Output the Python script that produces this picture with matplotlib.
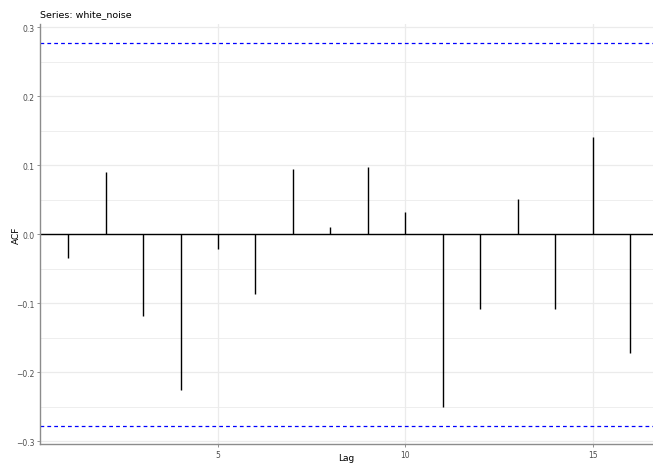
import matplotlib
matplotlib.use("Agg")
import matplotlib.pyplot as plt
import numpy as np

# autocorrelations of the white noise series, lags 1..16
lags = np.arange(1, 17)
acf = [-0.034, 0.090, -0.118, -0.225, -0.021, -0.087, 0.094, 0.011,
       0.097, 0.032, -0.251, -0.108, 0.051, -0.108, 0.141, -0.172]
n_obs = 50
ci = 1.96 / np.sqrt(n_obs)

yticks = [-0.3, -0.2, -0.1, 0.0, 0.1, 0.2, 0.3]
ytick_labels = ["\u22120.3", "\u22120.2", "\u22120.1", "0.0", "0.1", "0.2", "0.3"]
xticks = [5, 10, 15]

fig = plt.figure(figsize=(6.53, 4.64), dpi=100)
ax = fig.add_axes([40 / 653, 1 - 445 / 464, 613 / 653, 420 / 464])

ax.set_xlim(0.25, 16.61)
ax.set_ylim(-0.3039, 0.3048)

# grid: major + minor horizontal, major vertical only
for y in np.arange(-0.3, 0.31, 0.05):
    ax.axhline(y, color="#ebebeb", lw=0.9 if abs(round(y * 10) - y * 10) < 1e-6 else 0.6, zorder=0)
for x in xticks:
    ax.axvline(x, color="#ebebeb", lw=0.9, zorder=0)

ax.axhline(0, color="black", lw=1.0, zorder=2)
ax.vlines(lags, 0, acf, color="black", lw=1.0, zorder=3)
ax.axhline(ci, color="blue", lw=0.9, ls=(0, (3, 2.5)), zorder=2)
ax.axhline(-ci, color="blue", lw=0.9, ls=(0, (3, 2.5)), zorder=2)

ax.set_yticks(yticks)
ax.set_yticklabels(ytick_labels)
ax.set_xticks(xticks)
ax.tick_params(axis="both", length=2.5, width=0.6, color="#7f7f7f",
               labelcolor="#4d4d4d", labelsize=5.5, pad=1.5)

for side in ("top", "right"):
    ax.spines[side].set_visible(False)
for side in ("left", "bottom"):
    ax.spines[side].set_color("#8c8c8c")
    ax.spines[side].set_linewidth(1.0)

fig.text(346 / 653, 1 - 463 / 464, "Lag", fontsize=6.5, ha="center", va="bottom")
fig.text(16 / 653, 1 - 235 / 464, "ACF", fontsize=6.5, ha="center", va="center",
         rotation=90)
fig.text(40 / 653, 1 - 15 / 464, "Series: white_noise", fontsize=6.8,
         ha="left", va="center")

fig.savefig("out.png", dpi=100)
